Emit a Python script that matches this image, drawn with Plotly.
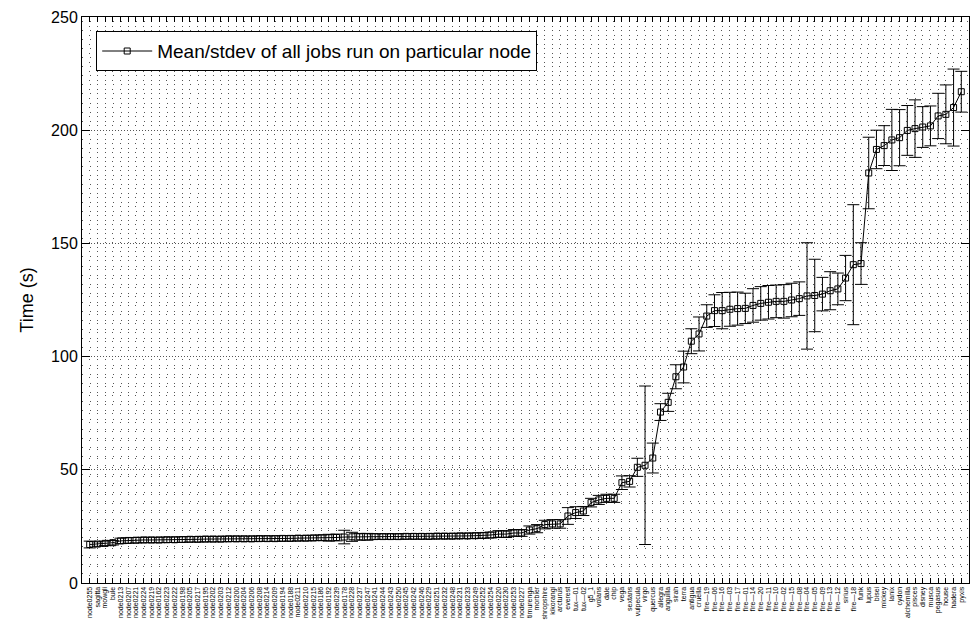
import plotly.graph_objects as go

# Per-node job timing summary: node name, mean run time (s), standard deviation (s)
nodes = [
    "node0255", "sagitta", "mowgli", "bule", "node0213", "node0207", "node0221", "node0224",
    "node0219", "node0162", "node0223", "node0222", "node0198", "node0205", "node0217", "node0195",
    "node0202", "node0203", "node0212", "node0200", "node0204", "node0206", "node0208", "node0214",
    "node0209", "node0194", "node0188", "node0211", "node0210", "node0215", "node0186", "node0192",
    "node0239", "node0178", "node0228", "node0237", "node0247", "node0241", "node0244", "node0243",
    "node0250", "node0245", "node0242", "node0246", "node0229", "node0251", "node0232", "node0248",
    "node0231", "node0233", "node0249", "node0252", "node0254", "node0220", "node0230", "node0253",
    "node0227", "timurenga", "morbier", "shropshire", "kikorangi", "arcturus", "everest", "tux\u201401",
    "tux\u201402", "g5_1", "volans", "dale", "chip", "vega", "sextans", "vulpecula",
    "virgo", "quercus", "allegra", "anguilla", "sirah", "terra", "antigua", "cruella",
    "fire\u201419", "fire\u201406", "fire\u201416", "fire\u201403", "fire\u201417", "fire\u201401", "fire\u201414", "fire\u201420",
    "fire\u201411", "fire\u201410", "fire\u201402", "fire\u201415", "fire\u201408", "fire\u201404", "fire\u201405", "fire\u201409",
    "fire\u201413", "fire\u201412", "sirius", "fire\u201418", "funk", "lupus", "bisei", "mickey",
    "lanix", "cydon", "alchemilla", "pisces", "disney", "musca", "pegasus", "house",
    "hadera", "pyxis",
]

mean_time = [
    17.0, 17.2, 17.5, 17.8, 18.6, 18.8, 18.9, 19.0,
    19.0, 19.0, 19.1, 19.1, 19.2, 19.3, 19.3, 19.4,
    19.4, 19.4, 19.5, 19.5, 19.5, 19.5, 19.6, 19.6,
    19.6, 19.7, 19.7, 19.8, 19.8, 19.9, 20.0, 20.0,
    20.1, 20.3, 20.4, 20.4, 20.4, 20.5, 20.5, 20.5,
    20.5, 20.6, 20.6, 20.6, 20.6, 20.7, 20.7, 20.7,
    20.8, 20.8, 20.9, 21.0, 21.2, 21.6, 21.6, 22.1,
    22.1, 23.4, 24.0, 25.8, 26.1, 26.1, 29.6, 31.1,
    31.8, 35.5, 36.7, 37.4, 37.4, 44.3, 44.9, 51.1,
    52.0, 55.2, 75.5, 79.8, 91.1, 95.4, 106.8, 110.0,
    117.9, 120.3, 120.3, 120.9, 121.2, 121.3, 122.6, 123.5,
    124.0, 124.4, 124.4, 125.0, 125.6, 126.8, 127.0, 127.6,
    129.1, 129.9, 134.7, 140.6, 141.1, 181.1, 191.5, 193.2,
    195.7, 196.7, 199.9, 200.7, 201.4, 201.9, 206.3, 207.0,
    210.0, 217.0,
]

stdev_time = [
    1.5, 1.0, 1.0, 1.0, 1.2, 1.2, 1.2, 1.2,
    1.2, 1.2, 1.2, 1.2, 1.2, 1.2, 1.2, 1.2,
    1.2, 1.2, 1.2, 1.2, 1.2, 1.2, 1.2, 1.2,
    1.2, 1.2, 1.2, 1.2, 1.2, 1.2, 1.2, 1.5,
    1.5, 3.0, 2.0, 1.5, 1.5, 1.2, 1.2, 1.2,
    1.2, 1.2, 1.2, 1.2, 1.2, 1.2, 1.2, 1.2,
    1.2, 1.2, 1.2, 1.2, 1.3, 1.5, 1.5, 1.5,
    1.5, 1.8, 1.8, 1.9, 1.9, 1.9, 3.7, 2.6,
    2.0, 1.9, 2.0, 1.8, 1.8, 3.0, 2.5, 4.0,
    35.0, 6.6, 3.7, 4.0, 5.3, 7.0, 5.5, 7.5,
    5.0, 7.0, 8.0, 7.5, 7.3, 6.7, 7.4, 7.4,
    7.4, 7.2, 7.4, 7.4, 7.4, 23.5, 16.0, 7.4,
    8.4, 7.0, 10.0, 26.5, 9.2, 15.8, 8.5, 8.8,
    13.5, 12.4, 11.0, 12.7, 9.0, 8.8, 10.0, 13.0,
    17.0, 9.0,
]

x_pos = list(range(1, len(nodes) + 1))

fig = go.Figure()
fig.add_trace(go.Scatter(
    x=x_pos,
    y=mean_time,
    mode="lines+markers",
    name="Mean/stdev of all jobs run on particular node",
    line=dict(color="black", width=1),
    marker=dict(symbol="square-open", size=6, color="black", line=dict(width=1, color="black")),
    error_y=dict(type="data", array=stdev_time, visible=True, color="black", thickness=1, width=6),
))

fig.update_layout(
    width=971,
    height=620,
    margin=dict(l=82, r=2, t=17, b=37),
    paper_bgcolor="white",
    plot_bgcolor="white",
    font=dict(family="Liberation Sans, Arial, sans-serif", color="black"),
    showlegend=True,
    legend=dict(
        x=0.016, y=0.975, xanchor="left", yanchor="top",
        bgcolor="white", bordercolor="black", borderwidth=1,
        font=dict(size=19), itemwidth=50,
    ),
)

fig.update_xaxes(
    range=[0, len(nodes) + 1],
    tickmode="array",
    tickvals=x_pos,
    ticktext=nodes,
    tickangle=-90,
    tickfont=dict(size=7),
    ticks="inside",
    ticklen=5,
    tickcolor="black",
    showline=True,
    linecolor="black",
    linewidth=1,
    mirror="ticks",
    showgrid=True,
    gridcolor="#555555",
    gridwidth=1,
    griddash="1px,8px",
    zeroline=False,
    automargin=False,
)

fig.update_yaxes(
    range=[0, 250],
    tickmode="linear",
    tick0=0,
    dtick=50,
    tickfont=dict(size=16),
    ticks="inside",
    ticklen=8,
    tickcolor="black",
    showline=True,
    linecolor="black",
    linewidth=1,
    mirror="ticks",
    showgrid=True,
    gridcolor="#555555",
    gridwidth=1,
    griddash="1px,2px",
    zeroline=False,
    title=dict(text="Time (s)", font=dict(size=18), standoff=12),
    minor=dict(
        tick0=0, dtick=4, showgrid=True, gridcolor="#555555", gridwidth=1,
        griddash="1px,6.7px", ticks="",
    ),
    automargin=False,
)

fig.write_html("out.html")
